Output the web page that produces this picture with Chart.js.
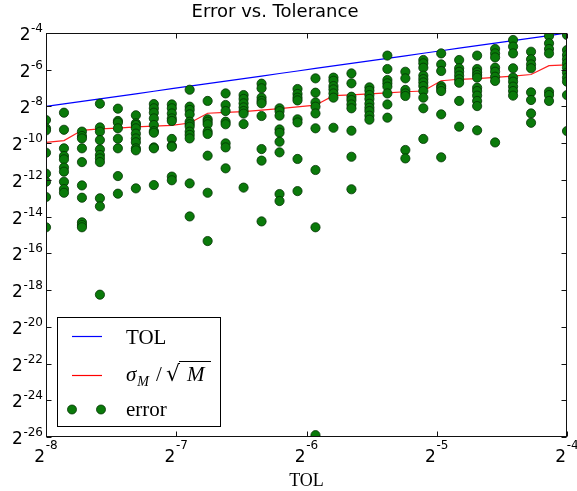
<!DOCTYPE html>
<html>
<head>
<meta charset="utf-8">
<script src="https://cdn.jsdelivr.net/npm/chart.js@4.4.0/dist/chart.umd.min.js"></script>
<style>
  html, body { margin: 0; padding: 0; background: #fff; }
</style>
</head>
<body>
<canvas id="myChart" width="577" height="491"></canvas>
<script>
// all values are base-2 exponents (the plot is log2 / log2)
const tolExp = [-8, -7.862, -7.724, -7.586, -7.448, -7.31, -7.172, -7.034, -6.897, -6.759,
  -6.621, -6.483, -6.345, -6.207, -6.069, -5.931, -5.793, -5.655, -5.517, -5.379,
  -5.241, -5.103, -4.966, -4.828, -4.69, -4.552, -4.414, -4.276, -4.138, -4];

const sigmaExp = [-9.96, -9.86, -9.3, -9.22, -9.18, -9.11, -9.07, -9.03, -8.9, -8.37,
  -8.32, -8.28, -8.2, -8.12, -8.02, -7.93, -7.41, -7.37, -7.32, -7.26,
  -7.2, -7.16, -6.6, -6.52, -6.48, -6.42, -6.35, -6.26, -5.78, -5.74];

// one list of error exponents per TOL value
const errorExp = [
  [-8.74, -9.19, -9.3, -10.52, -11.66, -12.1, -12.93, -14.58],
  [-8.34, -9.27, -10.28, -10.7, -10.88, -11.33, -11.55, -12.1, -12.5, -12.7],
  [-9.37, -9.61, -9.74, -10.28, -11.03, -12.3, -12.97, -14.31, -14.46, -14.58],
  [-7.85, -9.14, -9.37, -9.83, -10.34, -10.64, -10.83, -11.03, -13.0, -13.44, -18.25],
  [-8.12, -8.79, -8.88, -9.19, -9.76, -10.28, -11.79, -12.75],
  [-8.48, -8.92, -9.01, -9.19, -9.48, -9.74, -9.95, -10.28, -10.39, -12.46],
  [-7.87, -8.1, -8.34, -8.65, -9.01, -9.34, -9.43, -10.23, -10.28, -12.28],
  [-7.89, -8.1, -8.38, -8.65, -8.79, -9.77, -10.14, -10.19, -11.82, -12.02],
  [-7.09, -8.01, -8.19, -8.43, -8.83, -8.97, -9.1, -9.37, -9.55, -9.74, -12.19, -13.99],
  [-7.7, -8.7, -8.83, -8.97, -9.37, -9.5, -10.68, -12.7, -15.33],
  [-7.29, -7.92, -8.25, -8.83, -8.97, -10.01, -10.23, -11.37],
  [-7.38, -7.59, -7.83, -8.05, -8.25, -8.39, -8.96, -12.42],
  [-6.76, -7.01, -7.52, -7.7, -7.83, -8.52, -10.32, -10.95, -14.26],
  [-8.1, -8.25, -8.5, -9.25, -9.43, -9.92, -10.5, -12.77, -13.15],
  [-7.05, -7.32, -7.52, -7.67, -8.7, -8.87, -10.86, -12.61],
  [-6.47, -7.25, -7.78, -8.01, -8.38, -9.19, -11.46, -14.58, -25.9],
  [-6.43, -6.6, -6.89, -7.07, -7.29, -7.52, -9.16],
  [-6.2, -6.74, -7.47, -7.65, -7.89, -8.1, -9.32, -10.74, -12.51],
  [-6.96, -7.14, -7.38, -7.59, -7.85, -8.07, -8.25, -8.5, -8.72],
  [-5.23, -5.96, -6.56, -6.74, -6.92, -7.29, -7.89, -8.61],
  [-6.11, -6.47, -7.1, -7.29, -7.43, -10.37, -10.83],
  [-5.47, -5.65, -5.89, -6.32, -6.51, -6.69, -6.89, -7.16, -7.52, -8.1, -9.77],
  [-5.11, -5.71, -6.07, -6.89, -7.01, -7.16, -8.43, -10.77],
  [-5.47, -5.92, -6.11, -6.32, -6.52, -6.71, -7.7, -9.1],
  [-5.23, -5.96, -6.14, -6.29, -6.43, -6.98, -7.16, -7.41, -7.7, -7.98, -9.3],
  [-4.87, -5.11, -5.33, -5.89, -6.11, -6.38, -6.61, -9.96],
  [-4.38, -4.74, -5.11, -5.92, -6.43, -6.65, -6.92, -7.16, -7.41],
  [-5.02, -5.43, -5.71, -5.92, -7.23, -7.65, -8.38, -8.89],
  [-4.16, -4.56, -4.87, -5.11, -7.2, -7.38, -7.7],
  [-4.11, -4.93, -5.2, -5.43, -5.65, -5.89, -6.16, -6.43, -6.65, -7.38, -9.34],
];

const xTicks = [-8, -7, -6, -5, -4];
const yTicks = [-4, -6, -8, -10, -12, -14, -16, -18, -20, -22, -24, -26];

const titleText = "Error vs. Tolerance";
const xLabel = "TOL";

//build datasets
const tolData = tolExp.map((t) => ({ x: t, y: t }));
const sigmaData = tolExp.map((t, i) => ({ x: t, y: sigmaExp[i] }));
const errorData = [];
errorExp.forEach((col, i) => {
  col.forEach((e) => errorData.push({ x: tolExp[i], y: e }));
});

const green = "#0a7a0a";
const greenEdge = "#043304";

//power label like 2^-4, drawn as text with a raised exponent
function powWidth(ctx, exp) {
  ctx.font = "17px 'DejaVu Sans'";
  const w1 = ctx.measureText("2").width;
  ctx.font = "12px 'DejaVu Sans'";
  const w2 = ctx.measureText(String(exp)).width;
  return [w1, w2];
}

function drawPow(ctx, exp, left, base, sup) {
  const [w1] = powWidth(ctx, exp);
  ctx.font = "17px 'DejaVu Sans'";
  ctx.fillText("2", left, base);
  ctx.font = "12px 'DejaVu Sans'";
  ctx.fillText(String(exp), left + w1 + 0.5, sup);
}

const decor = {
  id: "decor",
  afterDraw(chart) {
    const { ctx, chartArea: a } = chart;
    const sx = chart.scales.x;
    const sy = chart.scales.y;
    ctx.save();
    ctx.fillStyle = "#000";
    ctx.strokeStyle = "#111";
    ctx.lineWidth = 1;
    ctx.textBaseline = "alphabetic";
    ctx.textAlign = "left";

    // frame
    const L = Math.round(a.left) + 0.5;
    const R = Math.round(a.right) - 0.5;
    const T = Math.round(a.top) + 0.5;
    const B = Math.round(a.bottom) - 0.5;
    ctx.strokeRect(L, T, R - L, B - T);

    // inward ticks on all four sides
    ctx.beginPath();
    xTicks.forEach((v) => {
      const px = Math.round(sx.getPixelForValue(v)) + 0.5;
      ctx.moveTo(px, B);
      ctx.lineTo(px, B - 5);
      ctx.moveTo(px, T);
      ctx.lineTo(px, T + 5);
    });
    yTicks.forEach((v) => {
      const py = Math.round(sy.getPixelForValue(v)) + 0.5;
      ctx.moveTo(L, py);
      ctx.lineTo(L + 5, py);
      ctx.moveTo(R, py);
      ctx.lineTo(R - 5, py);
    });
    ctx.stroke();

    // tick labels
    xTicks.forEach((v) => {
      const px = sx.getPixelForValue(v);
      const [w1, w2] = powWidth(ctx, v);
      drawPow(ctx, v, px - (w1 + w2 + 0.5) / 2, a.bottom + 25, a.bottom + 12);
    });
    yTicks.forEach((v) => {
      const py = sy.getPixelForValue(v);
      const [w1, w2] = powWidth(ctx, v);
      drawPow(ctx, v, a.left - 3 - (w1 + w2 + 0.5), py + 7, py - 1);
    });

    // title and axis label
    ctx.textAlign = "center";
    ctx.font = "18px 'DejaVu Sans'";
    ctx.fillText(titleText, 275, 17);
    ctx.font = "18px 'Liberation Serif'";
    ctx.fillText(xLabel, (a.left + a.right) / 2, 486);

    // legend box
    ctx.textAlign = "left";
    const bx = 57.5, by = 317.5, bw = 163, bh = 109;
    ctx.fillStyle = "#fff";
    ctx.fillRect(bx, by, bw, bh);
    ctx.strokeStyle = "#000";
    ctx.strokeRect(bx, by, bw, bh);

    ctx.lineWidth = 1.2;
    ctx.strokeStyle = "#0000ff";
    ctx.beginPath();
    ctx.moveTo(72, 336.5);
    ctx.lineTo(102, 336.5);
    ctx.stroke();
    ctx.strokeStyle = "#ff0000";
    ctx.beginPath();
    ctx.moveTo(72, 375.5);
    ctx.lineTo(102, 375.5);
    ctx.stroke();

    ctx.fillStyle = green;
    ctx.strokeStyle = greenEdge;
    ctx.lineWidth = 0.8;
    [72, 101].forEach((mx) => {
      ctx.beginPath();
      ctx.arc(mx, 409.5, 4.5, 0, Math.PI * 2);
      ctx.fill();
      ctx.stroke();
    });

    ctx.fillStyle = "#000";
    ctx.font = "21px 'Liberation Serif'";
    ctx.fillText("TOL", 126, 344);
    ctx.fillText("error", 126, 416);

    // sigma_M / sqrt(M)
    ctx.font = "italic 21px 'Liberation Serif'";
    ctx.fillText("\u03c3", 126, 381);
    const ws = ctx.measureText("\u03c3").width;
    ctx.font = "italic 14px 'Liberation Serif'";
    ctx.fillText("M", 126 + ws + 1, 386);
    ctx.font = "21px 'Liberation Serif'";
    ctx.fillText("/", 156, 381);
    ctx.font = "22px 'DejaVu Serif'";
    ctx.fillText("\u221a", 166, 381);
    ctx.font = "italic 21px 'Liberation Serif'";
    ctx.fillText("M", 187, 381);
    ctx.strokeStyle = "#000";
    ctx.lineWidth = 1;
    ctx.beginPath();
    ctx.moveTo(179, 361.5);
    ctx.lineTo(211, 361.5);
    ctx.stroke();

    ctx.restore();
  },
};

const config = {
  type: "scatter",
  data: {
    datasets: [
      {
        label: "TOL",
        data: tolData,
        showLine: true,
        borderColor: "#0000ff",
        borderWidth: 1.2,
        pointRadius: 0,
        fill: false,
        clip: 0,
        order: 2,
      },
      {
        label: "sigma_M / sqrt(M)",
        data: sigmaData,
        showLine: true,
        borderColor: "#ff2020",
        borderWidth: 1.2,
        pointRadius: 0,
        fill: false,
        clip: 0,
        order: 1,
      },
      {
        label: "error",
        data: errorData,
        showLine: false,
        pointRadius: 4.6,
        pointBackgroundColor: green,
        pointBorderColor: greenEdge,
        pointBorderWidth: 0.8,
        clip: 0,
        order: 0,
      },
    ],
  },
  options: {
    responsive: false,
    animation: false,
    events: [],
    layout: {
      padding: { left: 46, top: 33, right: 10, bottom: 54 },
    },
    plugins: {
      legend: { display: false },
      tooltip: { enabled: false },
      title: { display: false },
    },
    scales: {
      x: { type: "linear", min: -8, max: -4, display: false },
      y: { type: "linear", min: -26, max: -4, display: false },
    },
  },
  plugins: [decor],
};

new Chart(document.getElementById("myChart"), config);
</script>
</body>
</html>
